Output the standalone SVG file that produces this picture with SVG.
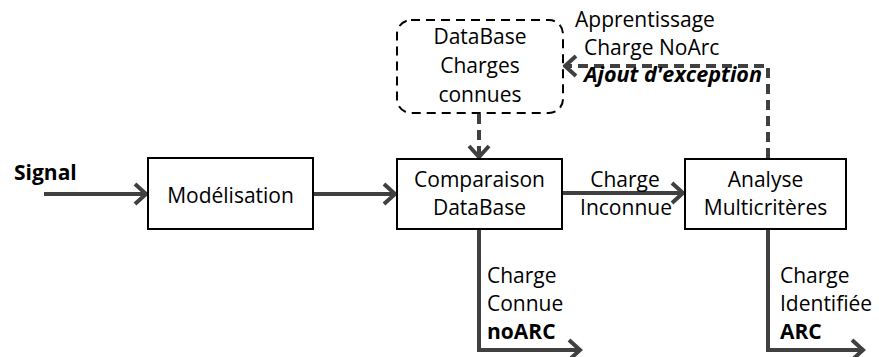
<svg xmlns="http://www.w3.org/2000/svg" width="879" height="357" viewBox="0 0 879 357">
<style>
text{font-family:"Open Sans","Noto Sans","Liberation Sans",sans-serif;font-size:21px;fill:#000}
.c{text-anchor:middle}
.b{font-weight:bold}
.bi{font-weight:bold;font-style:italic}
.box{fill:#fff;stroke:#000;stroke-width:2}
.dbox{fill:#fff;stroke:#000;stroke-width:2;stroke-dasharray:9 6}
.arr{fill:none;stroke:#404040;stroke-width:4;marker-end:url(#ah)}
.darr{fill:none;stroke:#404040;stroke-width:4;stroke-dasharray:10 6;marker-end:url(#ah)}
</style>
<defs>
<marker id="ah" markerUnits="userSpaceOnUse" markerWidth="16" markerHeight="24" refX="13" refY="12" orient="auto" viewBox="0 0 16 24">
<path d="M2,2 L13,12 L2,22" fill="none" stroke="#404040" stroke-width="4" stroke-linejoin="miter"/>
</marker>
</defs>
<g id="connectors">
<path class="arr" d="M44,194 H146"/>
<path class="arr" d="M313,194 H395"/>
<path class="arr" d="M562,193 H683"/>
<path class="darr" d="M479,114 V157"/>
<path class="darr" d="M768,158 V66 H565"/>
<path class="arr" d="M479,229 V350 H580"/>
<path class="arr" d="M768,229 V350 H863"/>
</g>
<g id="signal"><text x="14" y="180" class="b">Signal</text></g>
<g id="modelisation">
<rect class="box" x="148" y="158" width="165" height="71"/>
<text x="230.5" y="203" class="c">Modélisation</text>
</g>
<g id="comparaison">
<rect class="box" x="397" y="159" width="165" height="70"/>
<text x="479.5" y="187" class="c">Comparaison</text>
<text x="479.5" y="215" class="c">DataBase</text>
</g>
<g id="analyse">
<rect class="box" x="685" y="159" width="161" height="70"/>
<text x="765.5" y="187" class="c">Analyse</text>
<text x="765.5" y="215" class="c">Multicritères</text>
</g>
<g id="database">
<rect class="dbox" x="397" y="20" width="166" height="93" rx="14" ry="14"/>
<text x="480" y="44" class="c">DataBase</text>
<text x="480" y="73" class="c">Charges</text>
<text x="480" y="102" class="c">connues</text>
</g>
<g id="labels">
<text x="625" y="187" class="c">Charge</text>
<text x="626" y="215" class="c">Inconnue</text>
<text x="575" y="27">Apprentissage</text>
<text x="584" y="55">Charge NoArc</text>
<text x="584" y="82" class="bi" textLength="178" lengthAdjust="spacingAndGlyphs">Ajout d'exception</text>
<text x="487" y="283">Charge</text>
<text x="487" y="311">Connue</text>
<text x="487" y="339" class="b">noARC</text>
<text x="780" y="283">Charge</text>
<text x="780" y="311">Identifiée</text>
<text x="780" y="339" class="b">ARC</text>
</g>
</svg>
